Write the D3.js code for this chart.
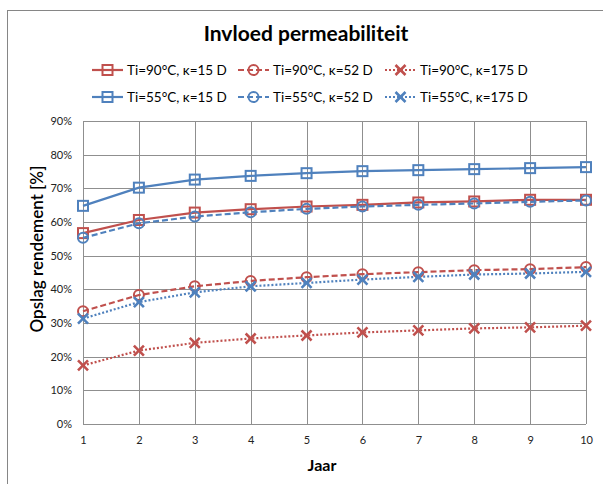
<!DOCTYPE html>
<html>
<head>
<meta charset="utf-8">
<script src="https://cdn.jsdelivr.net/npm/d3@7"></script>
<style>
  html, body { margin: 0; padding: 0; background: #fff; }
  svg { display: block; }
  text { font-family: Lato, "Open Sans", sans-serif; }
</style>
</head>
<body>
<svg id="chart" width="603" height="484"></svg>
<script>
// Years on the x axis
const years = [1, 2, 3, 4, 5, 6, 7, 8, 9, 10];

// Storage efficiency (%) per series
const ti90k15  = [56.7, 60.6, 62.8, 63.8, 64.6, 65.1, 65.8, 66.1, 66.6, 66.6];
const ti90k52  = [33.5, 38.3, 40.9, 42.5, 43.6, 44.5, 45.1, 45.7, 46.0, 46.6];
const ti90k175 = [17.4, 21.8, 24.1, 25.4, 26.3, 27.2, 27.8, 28.4, 28.7, 29.2];
const ti55k15  = [64.8, 70.2, 72.6, 73.7, 74.5, 75.1, 75.4, 75.7, 76.0, 76.3];
const ti55k52  = [55.3, 59.6, 61.6, 62.9, 63.9, 64.6, 65.1, 65.5, 66.0, 66.4];
const ti55k175 = [31.3, 36.2, 39.1, 40.9, 41.9, 42.9, 43.7, 44.4, 44.7, 45.2];

const yTicks = [0, 10, 20, 30, 40, 50, 60, 70, 80, 90];

const seriesNames = [
  "Ti=90°C, κ=15 D", "Ti=90°C, κ=52 D", "Ti=90°C, κ=175 D",
  "Ti=55°C, κ=15 D", "Ti=55°C, κ=52 D", "Ti=55°C, κ=175 D"
];
const seriesValues = [ti90k15, ti90k52, ti90k175, ti55k15, ti55k52, ti55k175];

const RED = "#C0504D", BLUE = "#4F81BD";
const styles = [
  { color: RED,  dash: null,   marker: "square" },
  { color: RED,  dash: "6,3",  marker: "circle" },
  { color: RED,  dash: "2,2",  marker: "x" },
  { color: BLUE, dash: null,   marker: "square" },
  { color: BLUE, dash: "6,3",  marker: "circle" },
  { color: BLUE, dash: "2,2",  marker: "x" }
];

const svg = d3.select("#chart");

// Chart frame
svg.append("rect")
  .attr("x", 7.5).attr("y", 10.5)
  .attr("width", 620).attr("height", 500)
  .attr("fill", "none").attr("stroke", "#868686").attr("stroke-width", 1);

// Title
svg.append("text")
  .attr("x", 306).attr("y", 41)
  .attr("text-anchor", "middle")
  .attr("font-size", 21).attr("font-weight", "bold")
  .attr("fill", "#000")
  .text("Invloed permeabiliteit");

const plot = { left: 83, right: 586, top: 121, bottom: 424 };

const x = d3.scaleLinear().domain([1, 10]).range([plot.left, plot.right]);
const y = d3.scaleLinear().domain([0, 90]).range([plot.bottom, plot.top]);

const g = svg.append("g");

// Gridlines
g.append("g").selectAll("line").data(yTicks).join("line")
  .attr("x1", plot.left).attr("x2", plot.right)
  .attr("y1", d => Math.round(y(d)) + 0.5).attr("y2", d => Math.round(y(d)) + 0.5)
  .attr("stroke", "#8f8f8f").attr("stroke-width", 1);
g.append("g").selectAll("line").data(years).join("line")
  .attr("x1", d => Math.round(x(d)) + 0.5).attr("x2", d => Math.round(x(d)) + 0.5)
  .attr("y1", plot.top).attr("y2", plot.bottom)
  .attr("stroke", "#8f8f8f").attr("stroke-width", 1);

// Axes (labels only; lines come from the grid)
const yAxis = d3.axisLeft(y).tickValues(yTicks).tickSize(0).tickPadding(11)
  .tickFormat(d => d + "%");
const yG = svg.append("g").attr("transform", `translate(${plot.left},0)`).call(yAxis);
yG.select(".domain").remove();
yG.selectAll("text").attr("font-size", 11).attr("fill", "#222")
  .attr("font-family", "Lato, sans-serif");

const xAxis = d3.axisBottom(x).tickValues(years).tickSize(0).tickPadding(12)
  .tickFormat(d3.format("d"));
const xG = svg.append("g").attr("transform", `translate(0,${plot.bottom})`).call(xAxis);
xG.select(".domain").remove();
xG.selectAll("text").attr("font-size", 11).attr("fill", "#222")
  .attr("font-family", "Lato, sans-serif");

// Axis titles
svg.append("text")
  .attr("transform", "translate(43,249) rotate(-90)")
  .attr("text-anchor", "middle")
  .attr("font-size", 17).attr("font-weight", 600)
  .attr("fill", "#000")
  .text("Opslag rendement [%]");

svg.append("text")
  .attr("x", 322).attr("y", 471)
  .attr("text-anchor", "middle")
  .attr("font-size", 16).attr("font-weight", "bold")
  .attr("fill", "#000")
  .text("Jaar");

// Marker drawing
function drawMarker(sel, type, color, size) {
  if (type === "square") {
    const s = size;
    sel.append("rect")
      .attr("x", -s / 2).attr("y", -s / 2).attr("width", s).attr("height", s)
      .attr("fill", "none").attr("stroke", color).attr("stroke-width", 2);
  } else if (type === "circle") {
    sel.append("circle").attr("r", size / 2)
      .attr("fill", "none").attr("stroke", color).attr("stroke-width", 2);
  } else {
    const h = size / 2;
    sel.append("path")
      .attr("d", `M${-h},${-h}L${h},${h}M${-h},${h}L${h},${-h}`)
      .attr("fill", "none").attr("stroke", color).attr("stroke-width", 2.6);
  }
}

const line = d3.line().x((d, i) => x(years[i])).y(d => y(d));

seriesValues.forEach((vals, si) => {
  const st = styles[si];
  const sg = g.append("g");
  sg.append("path")
    .datum(vals)
    .attr("d", line)
    .attr("fill", "none")
    .attr("stroke", st.color)
    .attr("stroke-width", 2.2)
    .attr("stroke-dasharray", st.dash);
  sg.selectAll("g.pt").data(vals).join("g")
    .attr("class", "pt")
    .attr("transform", (d, i) => `translate(${x(years[i])},${y(d)})`)
    .each(function () { drawMarker(d3.select(this), st.marker, st.color, 10); });
});

// Legend
const legendCols = [92, 238, 385];
const legendRows = [70, 97];
seriesNames.forEach((name, i) => {
  const st = styles[i];
  const lx = legendCols[i % 3], ly = legendRows[Math.floor(i / 3)];
  const lg = svg.append("g").attr("transform", `translate(${lx},${ly})`);
  lg.append("line")
    .attr("x1", 0).attr("x2", 31).attr("y1", 0).attr("y2", 0)
    .attr("stroke", st.color).attr("stroke-width", 2.2)
    .attr("stroke-dasharray", st.dash);
  const mg = lg.append("g").attr("transform", "translate(15.5,0)");
  drawMarker(mg, st.marker, st.color, 10);
  lg.append("text")
    .attr("x", 35).attr("y", 5)
    .attr("font-size", 13.5).attr("fill", "#000")
    .text(name);
});
</script>
</body>
</html>
